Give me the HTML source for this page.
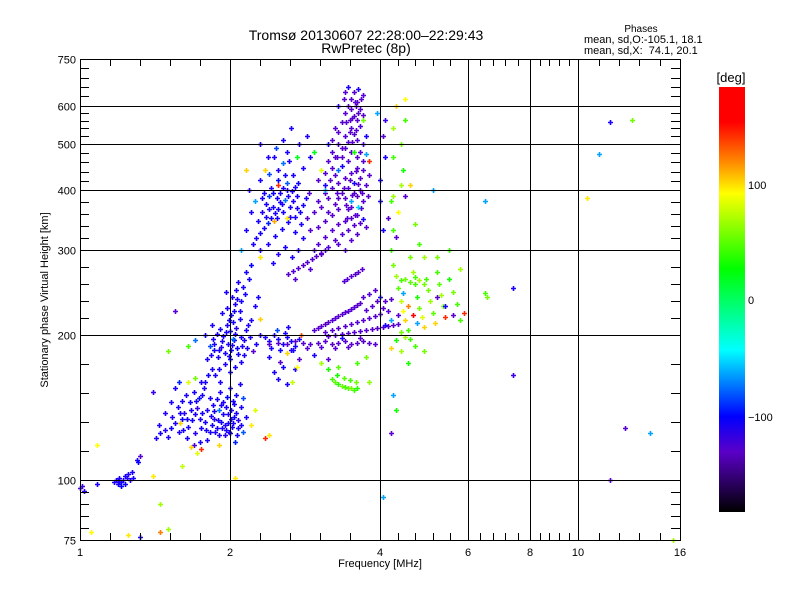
<!DOCTYPE html>
<html><head><meta charset="utf-8"><style>
html,body{margin:0;padding:0;background:#fff}
svg{display:block;font-family:"Liberation Sans","DejaVu Sans",sans-serif}
</style></head><body>
<svg id="chart" width="800" height="600" viewBox="0 0 800 600" xmlns="http://www.w3.org/2000/svg">
<defs>
<linearGradient id="cbgrad" x1="0" y1="1" x2="0" y2="0">
<stop offset="0" stop-color="#000000"/>
<stop offset="0.142" stop-color="#5a00c8"/>
<stop offset="0.225" stop-color="#0000ff"/>
<stop offset="0.381" stop-color="#00ffff"/>
<stop offset="0.572" stop-color="#00ff00"/>
<stop offset="0.75" stop-color="#ffff00"/>
<stop offset="0.822" stop-color="#ff8c00"/>
<stop offset="0.917" stop-color="#ff0000"/>
<stop offset="1" stop-color="#ff0000"/>
</linearGradient>
</defs>
<text x="366" y="40" font-size="14" text-anchor="middle">Tromsø 20130607 22:28:00–22:29:43</text>
<text x="366" y="53" font-size="14" text-anchor="middle">RwPretec (8p)</text>
<text x="641" y="32" font-size="10" text-anchor="middle">Phases</text>
<text x="584" y="43" font-size="11">mean, sd,O:-105.1, 18.1</text>
<text x="584" y="54" font-size="11" xml:space="preserve">mean, sd,X:  74.1, 20.1</text>
<g id="points"></g>
<g id="axes"></g>
<text transform="translate(48,300) rotate(-90)" font-size="11" text-anchor="middle">Stationary phase Virtual Height [km]</text>
<text x="380" y="567" font-size="11" text-anchor="middle">Frequency [MHz]</text>
<g>
<text x="731" y="82" font-size="13" text-anchor="middle">[deg]</text>
<rect x="719" y="87" width="26" height="425" fill="url(#cbgrad)"/>
<text x="748" y="189" font-size="11">100</text>
<text x="748" y="304" font-size="11">0</text>
<text x="748" y="421" font-size="11">−100</text>
</g>
</svg>
<script>
const xMajorTicks=[1,2,4,6,8,10,16];
const xTickLabels=["1","2","4","6","8","10","16"];
const yMajorTicks=[75,100,200,300,400,500,600,750];
const yTickLabels=["75","100","200","300","400","500","600","750"];
// [freq MHz, virtual height km, phase deg]
const tailPts=[[1.0,96,-125],[1.01,97,-120],[1.02,95,-115],[1.08,98,-110],[1.17,99,-112],[1.18,100,-108],[1.19,98,-110],[1.2,101,-105],[1.21,99,-112],[1.22,100,-110],[1.23,102,-108],[1.24,101,-115],[1.25,103,-110],[1.21,97,-100],[1.26,100,-112],[1.28,101,-108],[1.3,110,-110],[1.31,109,-105],[1.32,112,-130],[1.19,100,-120],[1.2,99,-110],[1.23,98,-105],[1.27,104,-110],
[1.05,78,90],[1.25,77,95],[1.45,78,120],[1.5,79,60],[1.32,76,-110],[1.4,102,95],[1.6,107,70],[1.45,89,60],[2.05,101,95],[1.08,118,90]];
const lowBlobPts=[[1.42,122,-112],[1.45,125,-108],[1.48,127,-115],[1.5,123,-110],[1.52,128,-105],[1.55,131,-112],[1.58,126,-110],[1.6,134,-108],[1.62,138,-115],[1.57,142,-110],[1.65,129,-112],[1.68,133,-105],[1.7,137,-110],[1.72,141,-120],[1.75,128,-110],[1.78,132,-108],[1.6,146,-110],[1.63,150,-112],[1.66,145,-105],[1.69,152,-110],[1.73,148,-95],[1.77,155,-110],[1.8,140,-112],[1.82,126,-110],[1.84,130,-108],[1.86,134,-115],[1.88,128,-110],[1.9,124,-112],[1.92,132,-105],[1.94,137,-110],[1.96,127,-110],[1.98,131,-108],[2.0,125,-112],[2.02,129,-110],[2.04,135,-105],[2.06,138,-110],[2.08,133,-115],[2.1,142,-110],[1.85,143,-110],[1.88,147,-108],[1.91,152,-112],[1.94,145,-110],[1.97,149,-100],[2.0,155,-110],[2.03,146,-112],[2.06,150,-108],[2.09,158,-110],[2.12,148,-80],[1.87,126,-112],[1.93,128,-110],[1.95,124,-115],[1.99,126,-110],[1.78,160,-110],[1.81,165,-105],[1.84,170,-112],[1.55,155,-110],[1.58,160,-90],[1.48,138,-112],[1.52,145,-110],[1.74,120,-110],[1.8,121,-112],[1.7,125,-115],[1.64,122,-110],[1.9,140,-70],[1.96,142,-110],[2.01,140,-112],[2.04,144,-108],[2.08,128,-110],[2.12,126,-75],[2.15,135,-110],[1.76,138,-105],[1.83,136,-110],[1.69,118,-125],
[1.44,130,-110],[1.53,135,-112],[1.61,127,-108],[1.67,140,-110],[1.74,134,-112],[1.79,127,-110],[1.86,139,-108],[1.92,143,-110],[1.98,137,-112],[2.03,131,-110],[2.07,124,-108],[1.89,133,-110],[1.95,130,-112],[2.01,134,-110],[1.71,146,-108],[1.76,150,-110],[1.82,148,-112],[1.59,138,-110],[1.64,134,-108],[2.1,130,-110],
[1.67,117,100],[1.72,114,80],[1.75,116,140],[1.59,131,100],[1.65,160,80],[1.7,163,50],[1.9,118,100],[2.2,130,95],[2.4,124,95],[2.25,140,80],[2.35,122,140],[1.5,185,50]];
const columnPts=[[1.8,178,-110],[1.83,182,-112],[1.86,186,-108],[1.89,180,-110],[1.92,189,-115],[1.95,184,-110],[1.98,192,-112],[2.01,186,-108],[2.04,195,-110],[2.07,188,-105],[2.1,198,-110],[1.85,196,-112],[1.88,201,-110],[1.91,206,-108],[1.94,199,-110],[1.97,210,-112],[2.0,204,-110],[2.03,213,-108],[2.06,207,-115],[2.09,216,-110],[1.82,190,-80],[1.9,170,-110],[1.95,174,-112],[2.0,168,-108],[2.05,172,-110],[2.1,176,-110],[2.13,182,-112],[2.16,188,-110],[2.0,178,-105],[1.87,165,-110],[1.93,222,-110],[1.97,228,-112],[2.01,220,-108],[2.05,232,-110],[2.09,225,-110],[2.02,240,-112],[2.06,248,-110],[2.1,236,-108],[2.14,244,-110],[2.08,258,-112],[2.12,252,-110],[2.18,262,-108],[1.96,246,-110],[2.15,205,-110],[2.19,198,-112],[1.84,210,-110],[1.78,200,-105],[2.03,196,-70],[1.99,181,-110],[2.11,190,-112],[2.2,215,-110],[2.15,270,-110],[1.75,160,-110],[1.91,160,-112],[2.22,185,-130],[2.26,192,-110],[2.3,200,-112],[2.24,230,-110],[2.28,240,-108],
[1.86,192,-110],[1.93,194,-112],[2.02,191,-110],[2.08,183,-108],[1.96,203,-110],[2.05,201,-112],[1.9,186,-110],[2.13,195,-110],[2.17,210,-112],[1.99,215,-110],[2.04,225,-108],[2.07,238,-110],
[2.35,198,-110],[2.4,194,-112],[2.45,200,-108],[2.5,196,-110],[2.55,192,-112],[2.6,198,-110],[2.65,194,-108],[2.7,190,-110],[2.75,196,-112],[2.42,188,-110],[2.52,186,-105],[2.58,202,-110],[2.68,186,-112],[2.48,205,-80],[2.62,208,-110],[2.45,168,-110],[2.5,162,-112],[2.55,172,-108],[2.6,158,-110],[2.52,176,-130],[2.7,170,-110],[2.4,180,-110],
[2.6,184,100],[2.72,172,90],[2.3,216,100],[2.78,200,130],[2.66,160,70]];
const upperBluePts=[[2.22,310,-110],[2.26,318,-112],[2.3,326,-108],[2.34,334,-110],[2.38,342,-90],[2.42,350,-110],[2.46,358,-112],[2.5,366,-108],[2.54,374,-110],[2.58,382,-70],[2.62,390,-110],[2.66,398,-112],[2.7,406,-110],[2.74,414,-108],[2.28,345,-110],[2.32,360,-112],[2.36,375,-110],[2.4,390,-85],[2.44,370,-110],[2.48,385,-108],[2.52,395,-112],[2.56,405,-110],[2.6,415,-75],[2.64,370,-110],[2.68,380,-112],[2.72,390,-110],[2.76,360,-108],[2.8,372,-110],[2.84,385,-112],[2.88,395,-130],[2.3,300,-110],[2.38,310,-112],[2.46,322,-110],[2.54,332,-108],[2.62,344,-110],[2.7,352,-112],[2.78,340,-110],[2.86,350,-130],[2.34,395,-110],[2.42,405,-112],[2.5,420,-100],[2.58,430,-110],[2.5,440,-112],[2.55,455,-70],[2.45,470,-110],[2.6,480,-112],[2.68,430,-110],[2.25,380,-60],[2.2,360,-110],[2.18,400,-112],[2.3,420,-110],[2.4,432,-80],[2.7,328,-110],[2.8,318,-112],[2.9,330,-130],[2.74,300,-110],[2.66,290,-112],[2.58,305,-110],[2.5,295,-115],[2.44,282,-110],[2.2,280,-100],[2.15,330,-110],[2.1,300,-60],
[2.32,385,-110],[2.4,365,-112],[2.48,350,-110],[2.56,360,-108],[2.64,352,-110],[2.6,400,-112],[2.52,378,-110],[2.44,395,-105],[2.36,352,-110],[2.72,368,-112],
[2.45,345,110],[2.5,410,140],[2.35,440,100],[2.6,350,95],[2.15,440,100],[2.3,290,95],
[2.3,500,-110],[2.38,470,-112],[2.47,490,-80],[2.55,510,-110],[2.63,460,-112],[2.72,470,20],[2.8,445,-110],[2.85,520,-112],[2.75,500,-110],[2.65,540,-110],[2.9,470,-112]];
const purpleMainPts=[[2.95,300,-130],[3.0,310,-128],[3.05,295,-132],[3.1,320,-130],[3.15,305,-125],[3.2,330,-130],[3.25,315,-132],[3.3,340,-130],[3.35,325,-128],[3.4,345,-130],[3.45,330,-130],[3.5,350,-132],[3.55,338,-130],[3.6,355,-128],[3.65,342,-130],[3.7,348,-110],[3.0,335,-130],[3.1,345,-132],[3.2,355,-130],[3.3,310,-128],[3.4,300,-130],[3.5,315,-130],[3.6,325,-132],[3.75,335,-130],
[2.95,360,-130],[3.0,380,-128],[3.05,370,-130],[3.1,395,-132],[3.15,385,-130],[3.2,405,-128],[3.25,375,-130],[3.3,415,-130],[3.35,395,-132],[3.4,425,-130],[3.45,405,-128],[3.5,435,-130],[3.55,415,-110],[3.6,445,-130],[3.65,425,-132],[3.7,440,-130],[3.75,410,-128],[3.8,430,-130],[3.0,420,-130],[3.1,435,-132],[3.2,445,-130],[3.3,365,-128],[3.4,385,-130],[3.5,370,-130],[3.6,390,-132],[3.7,380,-130],[3.15,360,-128],[3.25,430,-130],[3.35,450,-110],[3.45,365,-130],[3.55,395,-132],[3.65,400,-130],[3.78,390,-130],[3.1,410,-110],[3.3,385,-130],
[3.42,372,-130],[3.52,392,-128],[3.62,412,-130],[3.48,420,-132],[3.58,438,-130],[3.38,405,-128],[3.68,395,-130],[3.56,355,-130],[3.66,368,-132],[3.44,350,-130],[3.28,395,-128],[3.18,420,-130],
[3.15,460,-130],[3.2,480,-128],[3.25,470,-130],[3.3,500,-132],[3.35,490,-130],[3.4,520,-128],[3.45,505,-130],[3.5,540,-130],[3.55,525,-132],[3.6,560,-130],[3.65,545,-128],[3.7,575,-130],[3.3,530,-130],[3.35,555,-132],[3.4,580,-130],[3.45,600,-128],[3.5,620,-130],[3.55,640,-130],[3.6,610,-132],[3.65,590,-130],[3.7,630,-128],[3.4,640,-130],[3.45,655,-110],[3.5,590,-130],[3.55,570,-132],[3.6,510,-130],[3.65,480,-128],[3.7,500,-130],[3.75,520,-110],[3.2,510,-130],[3.25,540,-132],[3.35,470,-130],[3.45,460,-128],[3.5,480,-130],[3.6,470,-130],[3.4,490,-132],[3.3,600,-110],[3.38,620,-130],[3.48,560,-130],[3.58,600,-132],[3.62,650,-110],[3.28,470,-130],[3.7,460,-130],[3.15,500,-110],
[3.52,505,-130],[3.58,535,-128],[3.48,530,-130],[3.62,580,-132],[3.52,565,-130],[3.42,555,-128],[3.66,620,-130],[3.56,610,-130],
[3.5,380,-60],[3.62,370,-50],[3.3,440,-70],[2.95,480,20],[3.55,480,30],[3.7,560,50],[3.8,460,140],[3.75,475,-60],[3.1,400,-60],[3.05,440,80]];
const bandPts=[[2.62,268,-130],[2.68,272,-128],[2.74,276,-130],[2.8,280,-132],[2.86,284,-130],[2.92,288,-128],[2.98,292,-130],[3.04,296,-130],[3.1,300,-132],[2.7,262,-130],[2.9,275,-128],
[3.38,259,-130],[3.44,262,-128],[3.5,265,-130],[3.56,268,-132],[3.62,271,-130],[3.68,274,-128],
[2.95,205,-130],[3.0,207,-128],[3.05,209,-130],[3.1,211,-132],[3.15,213,-130],[3.2,215,-128],[3.25,217,-130],[3.3,219,-130],[3.35,221,-132],[3.4,223,-130],[3.45,225,-128],[3.5,227,-130],[3.55,229,-130],[3.6,231,-132],[3.65,233,-130],[3.1,203,-130],[3.2,205,-128],[3.3,207,-130],[3.4,209,-132],[3.5,211,-130],[3.6,213,-128],[3.7,215,-130],[3.8,217,-130],[3.9,219,-132],[4.0,221,-130],[3.15,199,-130],[3.25,200,-128],[3.35,201,-130],[3.45,202,-132],[3.55,203,-130],[3.65,204,-128],[3.75,205,-130],[3.85,206,-130],[3.95,207,-132],[4.05,208,-130],[4.15,209,-128],[4.25,210,-130],[4.35,211,-130],[3.7,240,-130],[3.8,244,-128],[3.9,248,-130],[4.0,240,-110],[4.1,235,-130],[4.2,238,-132],[4.05,228,-130],[4.15,224,-128],[3.75,226,-130],[3.85,230,-130],[3.95,236,-132],
[2.4,192,-130],[2.5,193,-128],[2.6,192,-130],[2.7,194,-132],[2.8,193,-130],[2.9,192,-128],[3.0,193,-130],[3.1,194,-130],[3.2,192,-132],[3.3,193,-130],[3.4,194,-128],[3.5,192,-130],[3.6,193,-130],[3.7,194,-132],[3.8,193,-130],[3.9,192,-128],[2.85,188,-130],[3.05,189,-128],[3.25,188,-130],[3.45,189,-130],[2.65,186,-110],[3.65,197,-130],[3.35,197,-110],[2.75,178,-130],[2.95,182,-110],[3.15,178,-130]];
const greenPts=[[3.2,162,40],[3.25,160,45],[3.3,158,35],[3.35,157,50],[3.4,156,40],[3.45,155,45],[3.5,155,50],[3.55,154,40],[3.6,155,35],[3.28,165,30],[3.38,163,45],[3.48,161,40],[3.58,160,50],[3.15,170,30],[3.3,172,45],[3.05,175,60],[3.6,175,40],[3.75,180,50],[3.8,160,55],
[4.2,300,40],[4.25,280,50],[4.3,265,60],[4.35,250,45],[4.4,235,70],[4.45,225,90],[4.5,215,100],[4.55,205,40],[4.6,290,50],[4.65,270,60],[4.7,255,40],[4.75,240,30],[4.8,228,50],[4.85,218,80],[4.9,208,100],[4.95,262,40],[5.0,248,50],[5.05,236,60],[5.1,222,45],[5.15,212,100],[5.2,270,40],[5.25,256,45],[5.3,242,60],[5.35,230,50],[5.4,218,140],[5.5,262,30],[5.6,246,50],[5.7,232,40],[5.8,275,60],[4.4,260,40],[4.5,262,50],[4.6,258,45],[4.7,264,40],[4.8,260,60],[4.9,256,50],[4.45,245,-60],[4.55,230,120],[4.65,220,170],[4.75,212,-60],[4.4,203,50],[4.5,198,60],[4.6,196,40],[4.3,195,30],[4.7,190,40],[4.2,188,100],[4.4,185,60],[4.9,185,50],[4.55,175,30],[4.25,150,-60],[4.3,140,30],[5.2,240,-130],[5.4,230,-110],[5.6,220,-130],[5.8,215,40],[5.9,222,140],[4.2,215,-60],[4.35,220,-130],[4.1,210,-110],[4.9,290,60],[5.2,290,50],[5.5,300,40],[4.8,310,40],[4.3,320,-130],
[4.2,380,40],[4.25,390,60],[4.35,360,90],[4.4,410,60],[4.45,440,30],[4.5,390,-130],[4.25,470,40],[4.4,500,50],[4.25,540,60],[4.5,560,40],[4.3,600,100],[4.5,620,90],[4.1,560,-120],[4.1,470,-110],[4.15,350,-130],[4.05,330,-110],[4.6,410,100],[4.25,330,40],[5.1,400,-60],[4.7,340,50],[4.0,380,-110],[4.0,420,-110],[4.05,520,-130],[3.95,580,-60]];
const outlierPts=[[11.6,555,-110],[12.8,560,50],[11.0,475,-60],[10.4,385,95],[6.5,380,-60],[7.4,250,-110],[6.5,245,40],[6.55,240,50],[7.4,165,-120],[12.4,128,-130],[13.9,125,-60],[11.6,100,-130],[15.5,75,60],[4.2,125,-130],[4.05,92,-60],[1.55,225,-130],[1.65,190,40],[1.4,152,-120],[1.7,195,-70],[2.05,120,-90]];
const colorStops=[[-180,0,0,0],[-150,60,0,120],[-129,90,0,215],[-112,30,0,255],[-99,0,0,255],[-70,0,110,255],[-43,0,255,255],[26,0,255,0],[60,160,255,0],[90,255,255,0],[116,255,140,0],[150,255,0,0],[180,255,0,0]];

const NS="http://www.w3.org/2000/svg";
const PL=80,PR=680,PT=59,PB=540;
function xScale(f){return PL+(PR-PL)*Math.log(f/1)/Math.log(16);}
function yScale(h){return PB-(PB-PT)*Math.log(h/75)/Math.log(10);}
function phaseColor(p){
  p=Math.max(-180,Math.min(180,p));
  for(let i=0;i<colorStops.length-1;i++){
    const a=colorStops[i],b=colorStops[i+1];
    if(p>=a[0]&&p<=b[0]){const t=(p-a[0])/(b[0]-a[0]);
      return `rgb(${Math.round(a[1]+t*(b[1]-a[1]))},${Math.round(a[2]+t*(b[2]-a[2]))},${Math.round(a[3]+t*(b[3]-a[3]))})`;}
  }
  return "rgb(255,0,0)";
}
const gp=document.getElementById('points');
[tailPts,lowBlobPts,columnPts,upperBluePts,purpleMainPts,bandPts,greenPts,outlierPts].forEach(set=>{
  set.forEach(d=>{
    const x=Math.round(xScale(d[0]))+0.5,y=Math.round(yScale(d[1]))+0.5;
    const el=document.createElementNS(NS,'path');
    el.setAttribute('d',`M${x-2.5},${y}h5M${x},${y-2.5}v5`);
    el.setAttribute('stroke',phaseColor(d[2]));
    el.setAttribute('stroke-width','1.6');
    
    
    gp.appendChild(el);
  });
});
const ga=document.getElementById('axes');
function line(x1,y1,x2,y2,name,w){
  const l=document.createElementNS(NS,'line');
  l.setAttribute('x1',x1);l.setAttribute('y1',y1);l.setAttribute('x2',x2);l.setAttribute('y2',y2);
  l.setAttribute('stroke','#000');l.setAttribute('stroke-width',w||1);
  
  
  ga.appendChild(l);
}
function text(x,y,s,anchor,name){
  const t=document.createElementNS(NS,'text');
  t.setAttribute('x',x);t.setAttribute('y',y);t.setAttribute('font-size','11');t.setAttribute('text-anchor',anchor);
  t.textContent=s;
  
  
  ga.appendChild(t);
}
xMajorTicks.forEach((f,i)=>{
  const x=Math.round(xScale(f))+0.5;
  if(i>0&&i<xMajorTicks.length-1) line(x,PT,x,PB,'x-gridline');
  text(x-0.5,556,xTickLabels[i],'middle','x-tick-label');
  if(i<xMajorTicks.length-1){
    const a=f,b=xMajorTicks[i+1];
    for(let k=1;k<5;k++){const xm=Math.round(xScale(a*Math.pow(b/a,k/5)))+0.5;
      line(xm,PB,xm,PB-7,'x-minor-tick');line(xm,PT,xm,PT+7,'x-minor-tick');}
  }
});
yMajorTicks.forEach((h,i)=>{
  const y=Math.round(yScale(h))+0.5;
  if(i>0&&i<yMajorTicks.length-1) line(PL,y,PR,y,'y-gridline');
  text(76,y+4,yTickLabels[i],'end','y-tick-label');
  if(i<yMajorTicks.length-1){
    const a=h,b=yMajorTicks[i+1];
    for(let k=1;k<5;k++){const ym=Math.round(yScale(a*Math.pow(b/a,k/5)))+0.5;
      line(PL,ym,PL+9,ym,'y-minor-tick');line(PR,ym,PR-9,ym,'y-minor-tick');}
  }
});
const fr=document.createElementNS(NS,'rect');
fr.setAttribute('x',PL+0.5);fr.setAttribute('y',PT+0.5);fr.setAttribute('width',PR-PL);fr.setAttribute('height',PB-PT);
fr.setAttribute('fill','none');fr.setAttribute('stroke','#000');


ga.appendChild(fr);
</script>
</body></html>
